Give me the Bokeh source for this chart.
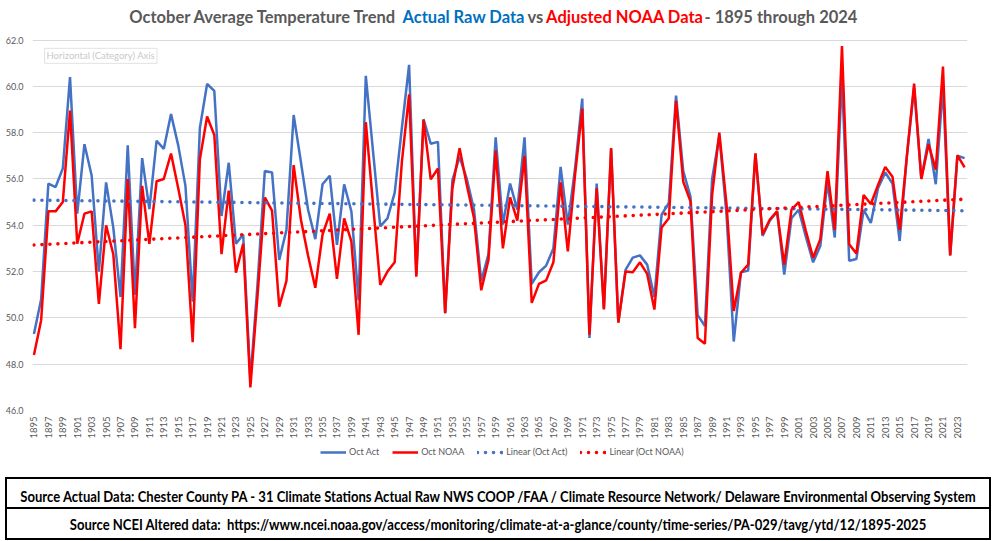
import math
import numpy as np
from bokeh.plotting import figure
from bokeh.layouts import column
from bokeh.models import (Range1d, FixedTicker, NumeralTickFormatter,
                          Legend, LegendItem, Label, ColumnDataSource, Div)
from bokeh.core.properties import value
from bokeh.embed import file_html
from bokeh.resources import INLINE

years = list(range(1895, 2025))

oct_act = [
    49.3, 50.8, 55.8, 55.65, 56.45, 60.4, 54.5, 57.5, 56.15, 52.0,
    55.85, 53.9, 50.9, 57.45, 51.0, 56.9, 54.7, 57.65, 57.3, 58.8,
    57.45, 55.7, 50.7, 58.2, 60.1, 59.8, 54.4, 56.7, 53.2, 53.6,
    47.3, 51.5, 56.34, 56.28, 52.5, 53.8, 58.76, 56.74, 54.67, 53.4,
    55.77, 56.14, 53.15, 55.77, 54.6, 50.76, 60.45, 57.2, 53.95, 54.3,
    55.4, 58.2, 60.93, 51.85, 58.58, 57.52, 57.6, 50.2, 55.95, 56.95,
    56.0, 54.67, 51.6, 52.75, 57.8, 54.03, 55.8, 54.67, 57.8, 51.47,
    51.97, 52.26, 53.0, 56.52, 54.03, 56.45, 59.47, 49.13, 55.8, 50.4,
    57.3, 49.8, 52.07, 52.6, 52.7, 52.3, 50.9, 54.46, 54.96, 59.6,
    56.34, 55.24, 50.12, 49.65, 56.0, 57.87, 54.46, 48.98, 51.97, 52.04,
    57.1, 53.54, 54.2, 54.6, 51.87, 54.3, 54.67, 53.5, 52.4, 53.1,
    55.88, 53.47, 60.4, 52.47, 52.54, 54.67, 54.1, 55.6, 56.28, 55.8,
    53.32, 57.0, 59.94, 56.0, 57.73, 55.77, 60.0, 52.7, 57.0, 56.9,
]

oct_noaa = [
    48.4, 49.9, 54.6, 54.6, 55.0, 58.95, 53.2, 54.5, 54.6, 50.6,
    54.0, 52.75, 48.65, 56.0, 49.55, 55.7, 53.2, 55.9, 56.0, 57.1,
    55.6, 54.0, 48.95, 56.85, 58.7, 57.9, 52.75, 55.5, 51.95, 53.2,
    47.0, 51.0, 55.2, 54.63, 50.48, 51.6, 56.6, 54.25, 52.68, 51.3,
    53.6, 54.5, 51.69, 54.3, 53.3, 49.27, 58.45, 54.9, 51.42, 52.0,
    52.4, 56.75, 59.65, 51.78, 58.55, 55.98, 56.45, 50.2, 55.6, 57.33,
    55.74, 54.3, 51.19, 52.5, 57.23, 53.0, 55.2, 54.2, 57.0, 50.65,
    51.47, 51.62, 52.4, 55.85, 52.87, 56.17, 59.04, 49.27, 55.6, 50.36,
    57.33, 49.8, 52.0, 51.97, 52.4, 51.9, 50.36, 53.9, 54.3, 59.37,
    55.88, 55.03, 49.13, 48.88, 55.3, 58.0, 54.9, 50.3, 51.95, 52.3,
    57.1, 53.6, 54.25, 54.6, 52.3, 54.67, 55.0, 53.75, 52.6, 53.4,
    56.34, 53.8, 61.74, 53.18, 52.78, 55.31, 54.92, 55.74, 56.52, 56.1,
    53.8, 57.0, 60.12, 56.0, 57.5, 56.4, 60.85, 52.7, 57.02, 56.5,
]

series_names = ["Oct Act", "Oct NOAA", "Linear (Oct Act)", "Linear (Oct NOAA)"]
x_tick_years = list(range(1895, 2025, 2))
y_ticks = [46, 48, 50, 52, 54, 56, 58, 60, 62]
title_parts = ["October Average Temperature Trend", "Actual Raw Data", "vs",
               "Adjusted NOAA Data", "- 1895 through 2024"]
footer_texts = [
    "Source Actual Data: Chester County PA - 31 Climate Stations Actual Raw NWS COOP /FAA / Climate Resource Network/ Delaware Environmental Observing System",
    "Source NCEI Altered data:  https://www.ncei.noaa.gov/access/monitoring/climate-at-a-glance/county/time-series/PA-029/tavg/ytd/12/1895-2025",
]

BLUE = "#4472C4"
RED = "#FF0000"
GRAY = "#595959"
FONT = "Lato"
W = 992

# linear trend lines (least squares, like Excel's "Linear" trendline)
yr = np.array(years, dtype=float)
act_fit = np.polyfit(yr, np.array(oct_act), 1)
noaa_fit = np.polyfit(yr, np.array(oct_noaa), 1)
act_trend = list(np.polyval(act_fit, yr))
noaa_trend = list(np.polyval(noaa_fit, yr))

src = ColumnDataSource(dict(year=years, act=oct_act, noaa=oct_noaa,
                            act_trend=act_trend, noaa_trend=noaa_trend))

# frame: x 32..967 px, y 0..415 px (46.0 at 415, 62.0 at 40)
PX_PER_DEG = 375 / 16
X0, X1 = 1894.8, 2024.4
PX_PER_YEAR = 935 / (X1 - X0)
Y_TOP = 62 + 40 / PX_PER_DEG

def xd(px):
    return X0 + (px - 32) / PX_PER_YEAR

def yd(py):
    return 62 - (py - 40) / PX_PER_DEG

CH = 441
p = figure(width=W, height=CH, output_backend="svg", toolbar_location=None,
           x_range=Range1d(X0, X1), y_range=Range1d(46, Y_TOP))
p.min_border_left = 32
p.min_border_right = W - 967
p.min_border_top = 0
p.min_border_bottom = CH - 415
p.outline_line_color = None
p.background_fill_color = "white"
p.border_fill_color = "white"
p.margin = 0

line_styles = [
    dict(line_color=BLUE, line_width=2.5),
    dict(line_color=RED, line_width=2.5),
    dict(line_color=BLUE, line_width=3.6, line_dash="0 8", line_cap="round"),
    dict(line_color=RED, line_width=3.6, line_dash="0 8", line_cap="round"),
]
cols = ["act", "noaa", "act_trend", "noaa_trend"]
for c, st in zip(cols, line_styles):
    p.line("year", c, source=src, **st)

xa = p.xaxis[0]
xa.ticker = FixedTicker(ticks=x_tick_years)
xa.major_label_orientation = math.pi / 2
xa.major_label_text_font = FONT
xa.major_label_text_font_size = "9.5px"
xa.major_label_text_color = GRAY
xa.major_tick_line_color = None
xa.major_tick_out = 0
xa.major_tick_in = 0
xa.minor_tick_line_color = None
xa.axis_line_color = None
xa.major_label_standoff = 6

ya = p.yaxis[0]
ya.ticker = FixedTicker(ticks=y_ticks)
ya.formatter = NumeralTickFormatter(format="0.0")
ya.major_label_text_font = FONT
ya.major_label_text_font_size = "9px"
ya.major_label_text_color = GRAY
ya.major_tick_line_color = None
ya.major_tick_out = 0
ya.major_tick_in = 0
ya.minor_tick_line_color = None
ya.axis_line_color = None
ya.major_label_standoff = 9

p.xgrid.grid_line_color = None
p.ygrid.grid_line_color = "#d9d9d9"
p.ygrid.grid_line_width = 1

# multi-coloured title, drawn inside the (extended) frame
title_px = [262.7, 402, 527, 545.6, 704]
title_align = ["center", "left", "left", "left", "left"]
title_colors = [GRAY, "#0070C0", GRAY, RED, GRAY]
p.text(x=[xd(v) for v in title_px], y=[yd(17)] * 5, text=title_parts,
       text_color=title_colors, text_font=value(FONT), text_font_style="bold",
       text_font_size="16.5px", text_align=title_align, text_baseline="middle")

# ghost "Horizontal (Category) Axis" tooltip box
p.add_layout(Label(x=xd(44), y=yd(56), text="Horizontal (Category) Axis",
                   text_color="#c9c9c9", text_font=FONT, text_font_size="9.5px",
                   text_baseline="middle", text_align="left",
                   border_line_color="#e2e2e2", border_line_width=1, padding=2))

# ---------------- legend strip (same line styles, its own legend) ----------------
LH = 470 - CH
lg = figure(width=W, height=LH, output_backend="svg", toolbar_location=None,
            x_range=Range1d(0, 1), y_range=Range1d(0, 1),
            x_axis_location=None, y_axis_location=None)
lg.min_border_left = 32
lg.min_border_right = W - 967
lg.min_border_top = 0
lg.min_border_bottom = 0
lg.grid.grid_line_color = None
lg.outline_line_color = None
lg.margin = 0
items = []
for name, st in zip(series_names, line_styles):
    # proxy renderers placed outside the strip's visible range; only their legend glyph shows
    r = lg.line(x=[5, 6], y=[5, 6], **st)
    items.append(LegendItem(label=name, renderers=[r]))
legend = Legend(items=items, orientation="horizontal", location=(288, LH - 16))
legend.border_line_color = None
legend.background_fill_alpha = 0
legend.label_text_font = FONT
legend.label_text_font_size = "9px"
legend.label_text_color = GRAY
legend.glyph_width = 26
legend.glyph_height = 10
legend.label_height = 10
legend.label_standoff = 3
legend.spacing = 13
legend.padding = 0
legend.margin = 0
lg.add_layout(legend, "center")

# ---------------- footer: two boxed source lines ----------------
def box(top, height, txt, text_top):
    cx = 5 + (W - 6) / 2
    return (
        f'<div style="position:absolute;left:5px;top:{top}px;width:{W - 6}px;height:{height}px;'
        f'box-sizing:border-box;border:2px solid #000;"></div>'
        f'<div style="position:absolute;left:{cx}px;top:{text_top}px;line-height:20px;'
        f'white-space:pre;transform:translateX(-50%) scaleX(0.9);">{txt}</div>'
    )

footer_html = (
    f'<div style="position:relative;width:{W}px;height:70px;font-family:Lato, sans-serif;'
    f'font-weight:bold;font-size:14.5px;color:#000;">'
    + box(7, 32, footer_texts[0], 17)
    + box(37, 33, footer_texts[1], 45)
    + '</div>'
)
footer = Div(text=footer_html, width=W, height=70, margin=0)

layout = column(p, lg, footer, spacing=0, margin=0)
open("out.html", "w").write(file_html(layout, INLINE))
